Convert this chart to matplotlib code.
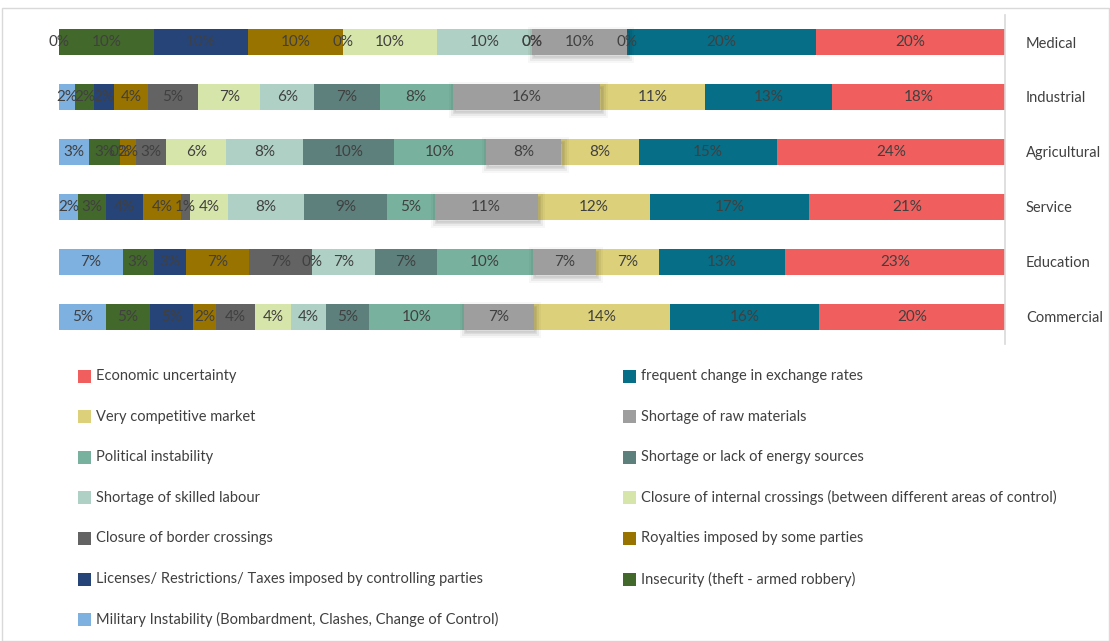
import matplotlib
matplotlib.use("Agg")
import matplotlib.pyplot as plt
import matplotlib.patheffects as pe
from matplotlib.patches import Rectangle
import numpy as np

plt.rcParams['font.family'] = ['Lato', 'DejaVu Sans']

sectors = ["Medical", "Industrial", "Agricultural", "Service", "Education", "Commercial"]

series_names = [
    "Military Instability (Bombardment, Clashes, Change of Control)",
    "Insecurity (theft - armed robbery)",
    "Licenses/ Restrictions/ Taxes imposed by controlling parties",
    "Royalties imposed by some parties",
    "Closure of border crossings",
    "Closure of internal crossings (between different areas of control)",
    "Shortage of skilled labour",
    "Shortage or lack of energy sources",
    "Political instability",
    "Shortage of raw materials",
    "Very competitive market",
    "frequent change in exchange rates",
    "Economic uncertainty",
]

# share of responses (%) per sector, one list per obstacle, sectors in the order above
military      = [0.0, 1.7, 3.2, 2.0, 6.7, 5.0]
insecurity    = [10.0, 2.0, 3.3, 3.0, 3.3, 4.6]
licenses      = [10.0, 2.1, 0.0, 3.9, 3.4, 4.6]
royalties     = [10.0, 3.6, 1.6, 4.0, 6.6, 2.4]
border        = [0.0, 5.3, 3.2, 1.0, 6.7, 4.1]
internal      = [10.0, 6.6, 6.4, 4.0, 0.0, 3.8]
skilled       = [10.0, 5.7, 8.1, 8.0, 6.6, 3.7]
energy        = [0.0, 6.9, 9.6, 8.8, 6.6, 4.6]
political     = [0.0, 7.7, 9.7, 5.0, 10.1, 10.0]
raw_materials = [10.0, 15.6, 8.0, 10.9, 6.6, 7.4]
competitive   = [0.0, 11.1, 8.2, 11.9, 6.7, 14.4]
exchange      = [20.0, 13.4, 14.6, 16.8, 13.3, 15.7]
economic      = [20.0, 18.3, 24.1, 20.7, 23.2, 19.7]

colors = ["#7EB0E0", "#43682B", "#264478", "#997300", "#636363", "#D6E5AA",
          "#AFD0C4", "#5D807C", "#78B29E", "#9E9E9E", "#DCD07A", "#066E87", "#F05F5E"]

data = np.array([military, insecurity, licenses, royalties, border, internal, skilled,
                 energy, political, raw_materials, competitive, exchange, economic])
# normalise each sector to 100 %
data = data / data.sum(axis=0) * 100

W, H = 1110, 641
fig = plt.figure(figsize=(W / 100, H / 100), dpi=100)
ax = fig.add_axes([59 / W, 1 - 344.5 / H, (1005 - 59) / W, 330 / H])

y = np.arange(len(sectors))
left = np.zeros(len(sectors))
text_color = "#404040"
for k, (name, vals) in enumerate(zip(series_names, data)):
    bars = ax.barh(y, vals, left=left, height=0.46, color=colors[k], label=name,
                   linewidth=0, zorder=2 if k != 9 else 3)
    if k == 9:
        # soft drop shadow on the raw-materials segments
        for b in bars:
            b.set_path_effects([
                pe.Stroke(linewidth=8, foreground="#000000", alpha=0.03, offset=(1, -2)),
                pe.Stroke(linewidth=5, foreground="#000000", alpha=0.05, offset=(1, -2)),
                pe.Stroke(linewidth=2, foreground="#000000", alpha=0.07, offset=(1, -2)),
                pe.Normal()])
    for i, v in enumerate(vals):
        ax.text(left[i] + v / 2, y[i], f"{v:.0f}%", ha="center", va="center",
                fontsize=11, color=text_color, zorder=5)
    left += vals

ax.set_xlim(0, 100)
ax.set_ylim(len(sectors) - 0.5, -0.5)
ax.set_yticks(y)
ax.set_yticklabels(sectors, fontsize=10.5, color="#404040")
ax.yaxis.tick_right()
ax.tick_params(axis="y", length=0, pad=15)
for lab in ax.get_yticklabels():
    lab.set_horizontalalignment("left")
ax.set_xticks([])
for side in ["top", "left", "bottom"]:
    ax.spines[side].set_visible(False)
ax.spines["right"].set_color("#D9D9D9")
ax.spines["right"].set_linewidth(1.2)

# legend laid out row by row, reversed series order
order = list(range(len(series_names)))[::-1]
for n, k in enumerate(order):
    r, c = divmod(n, 2)
    ypx = 376 + r * 40.6
    xpx = 78 if c == 0 else 623
    fig.patches.append(Rectangle((xpx / W, 1 - (ypx + 6.5) / H), 13 / W, 13 / H,
                                 transform=fig.transFigure, facecolor=colors[k],
                                 edgecolor="none"))
    fig.text((xpx + 18) / W, 1 - ypx / H, series_names[k], ha="left", va="center",
             fontsize=10.5, color=text_color)

# thin outer frame
fig.patches.append(Rectangle((2 / W, 0), 1 - 3 / W, 1 - 8 / H, transform=fig.transFigure,
                             facecolor="none", edgecolor="#D9D9D9", linewidth=1))

fig.savefig("out.png", dpi=100)
